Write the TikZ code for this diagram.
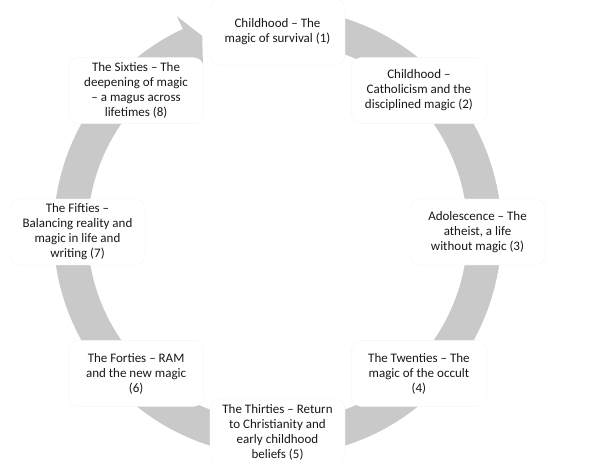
\documentclass[tikz,border=0pt]{standalone}
\usepackage{fontspec}
\setmainfont{Carlito}
\usepackage{xcolor}
\usepackage{tikz}
\usetikzlibrary{shapes.misc, positioning, calc}
\definecolor{ringgray}{RGB}{201, 201, 201}

\begin{document}
\begin{tikzpicture}[
    stage/.style={draw=black!4, fill=white, rounded corners=10pt, minimum width=135pt, minimum height=66pt, inner sep=2pt, align=center, font=\fontsize{13}{15}\selectfont, text=black!90},
    ring/.style={fill=ringgray}
]
    \useasboundingbox (-277.5pt,-231pt) rectangle (335.5pt,232pt);

    % circular arrow under the stages
    \fill[ring] (78:224pt) arc[start angle=78, end angle=-245, radius=224pt]
        -- (115:238pt) -- (111:210pt) -- (115:176pt) -- (115:190pt)
        arc[start angle=-245, end angle=78, radius=190pt] -- cycle;

    \node[stage] (survival) at (90:200pt) {Childhood – The\\magic of survival (1)};
    \node[stage] (catholic) at (45:200pt) {Childhood –\\Catholicism and the\\disciplined magic (2)};
    \node[stage] (atheist) at (0:200pt) {Adolescence – The\\atheist, a life\\without magic (3)};
    \node[stage] (occult) at (-45:200pt) {The Twenties – The\\magic of the occult\\(4)};
    \node[stage] (return) at (-90:200pt) {The Thirties – Return\\to Christianity and\\early childhood\\beliefs (5)};
    \node[stage] (ram) at (-135:200pt) {The Forties – RAM\\and the new magic\\(6)};
    \node[stage] (balance) at (180:200pt) {The Fifties –\\Balancing reality and\\magic in life and\\writing (7)};
    \node[stage] (magus) at (135:200pt) {The Sixties – The\\deepening of magic\\– a magus across\\lifetimes (8)};
\end{tikzpicture}
\end{document}
